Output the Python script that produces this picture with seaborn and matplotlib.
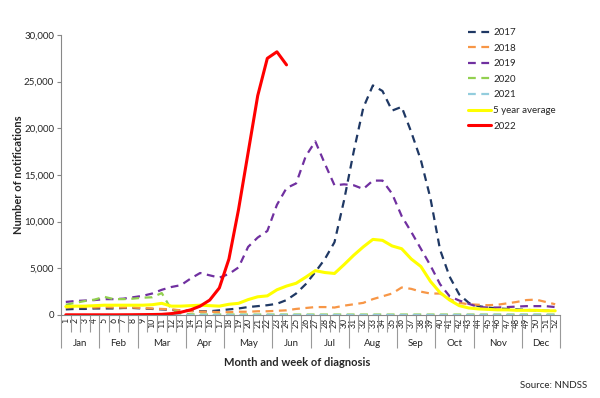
import matplotlib
matplotlib.use('Agg')
import matplotlib.pyplot as plt
import matplotlib.transforms as mtransforms
from matplotlib.ticker import FuncFormatter
import numpy as np
import pandas as pd
import seaborn as sns

weeks = list(range(1, 53))
months = ["Jan", "Feb", "Mar", "Apr", "May", "Jun", "Jul", "Aug", "Sep", "Oct", "Nov", "Dec"]
weeks_per_month = [4, 4, 5, 4, 5, 4, 4, 5, 4, 4, 5, 4]

y2017 = [600, 650, 650, 700, 700, 700, 750, 750, 700, 650,
         600, 550, 500, 450, 400, 400,
         500, 600, 700, 850, 950, 1050, 1200, 1600, 2300, 3300,
         4600, 6000, 7800, 12300, 17500, 22200, 24600, 24000, 21900, 22300,
         19600, 16600, 12500, 7000, 4100, 2200, 1300, 950, 800, 700,
         650, 600, 550, 500, 450, 450]
y2018 = [800, 850, 850, 800, 850, 800, 800, 800, 750, 700,
         650, 600, 500, 400, 350, 350,
         300, 300, 350, 350, 400, 400, 450, 500, 650, 750,
         850, 850, 800, 1000, 1150, 1300, 1700, 2000, 2300, 2950,
         2800, 2500, 2300, 2300, 1700, 1300, 1150, 1100, 1050, 1100,
         1250, 1400, 1600, 1650, 1400, 1150]
y2019 = [1400, 1500, 1550, 1600, 1700, 1700, 1750, 1900, 2050, 2300,
         2700, 3000, 3200, 3900, 4500, 4250,
         4000, 4400, 5100, 7300, 8300, 9000, 11800, 13600, 14100, 17000,
         18600, 16200, 13900, 14000, 13900, 13500, 14400, 14400, 13000, 10600,
         8900, 7100, 5300, 3300, 2000, 1550, 1200, 850, 800, 800,
         850, 900, 950, 950, 950, 850]
y2020 = [1100, 1300, 1500, 1650, 1950, 1700, 1700, 1750, 1850, 1900,
         2350, 600, 150, 80, 60, 50,
         50, 50, 50, 50, 50, 50, 50, 50, 50, 50,
         50, 50, 50, 50, 50, 50, 50, 50, 50, 50,
         50, 50, 50, 50, 50, 50, 50, 50, 50, 50,
         50, 50, 50, 50, 50, 50]
y2021 = [40, 40, 40, 40, 40, 40, 40, 40, 40, 40,
         40, 40, 40, 40, 40, 40,
         40, 40, 40, 40, 40, 40, 40, 40, 40, 40,
         40, 40, 40, 40, 40, 40, 40, 40, 40, 40,
         40, 40, 40, 40, 40, 40, 40, 40, 40, 40,
         40, 40, 40, 40, 40, 40]
y_avg = [900, 950, 950, 1000, 1050, 1050, 1050, 1050, 1050, 1100,
         1250, 950, 950, 1000, 1050, 1000,
         950, 1150, 1250, 1650, 1950, 2050, 2700, 3100, 3400, 4050,
         4750, 4550, 4450, 5400, 6400, 7300, 8100, 8000, 7400, 7100,
         6000, 5200, 3600, 2400, 1600, 1000, 750, 650, 600, 550,
         550, 500, 500, 500, 450, 450]
y2022 = [20, 20, 20, 20, 20, 20, 25, 30, 40, 50,
         70, 150, 300, 550, 950, 1600,
         2900, 6000, 11300, 17400, 23500, 27500, 28200, 26800]

series = [
    ("2017", y2017, "#1F3864", (3.5, 2.5), 1.6),
    ("2018", y2018, "#F79646", (3.5, 2.5), 1.6),
    ("2019", y2019, "#7030A0", (3.5, 2.5), 1.6),
    ("2020", y2020, "#92D050", (3.5, 2.5), 1.6),
    ("2021", y2021, "#93CDDD", (3.5, 2.5), 1.6),
    ("5 year average", y_avg, "#FFFF00", None, 2.2),
    ("2022", y2022, "#FF0000", None, 2.2),
]

sns.set_theme(style="white")
plt.rcParams['font.family'] = ['Lato', 'DejaVu Sans']

fig = plt.figure(figsize=(6.0, 3.98), dpi=100)
ax = fig.add_axes([61 / 600, 1 - 315 / 398, 499 / 600, 280 / 398])

handles = []
for name, vals, color, dash, lw in series:
    df = pd.DataFrame({"week": weeks[:len(vals)], "n": vals})
    sns.lineplot(data=df, x="week", y="n", ax=ax, color=color, linewidth=lw, label=name)
    line = ax.get_lines()[-1]
    if dash:
        line.set_dashes(dash)
    handles.append(line)

ax.set_xlim(0.5, 52.5)
ax.set_ylim(0, 30000)
ax.set_yticks([0, 5000, 10000, 15000, 20000, 25000, 30000])
ax.yaxis.set_major_formatter(FuncFormatter(lambda v, p: f"{int(v):,}"))
ax.tick_params(axis='y', which='major', length=3, width=0.8, color="#888888",
               labelsize=7, pad=2, left=True)

ax.set_xticks(weeks)
ax.set_xticklabels([str(w) for w in weeks], rotation=90, fontsize=6.3)
ax.tick_params(axis='x', which='major', length=0, pad=2)

# week boundary ticks, longer at month boundaries
bounds = np.arange(0.5, 53.5, 1.0)
month_edges = np.cumsum([0] + weeks_per_month) + 0.5
ax.set_xticks(bounds, minor=True)
ax.tick_params(axis='x', which='minor', length=12, width=0.8, color="#999999", bottom=True)
for t, b in zip(ax.xaxis.get_minor_ticks(), bounds):
    if np.any(np.isclose(month_edges, b)):
        t.tick1line.set_markersize(24)

trans = mtransforms.blended_transform_factory(ax.transData, ax.transAxes)
start = 0.5
for m, n in zip(months, weeks_per_month):
    ax.text(start + n / 2, -0.1, m, transform=trans, ha='center', va='center', fontsize=7)
    start += n

for s in ["top", "right"]:
    ax.spines[s].set_visible(False)
for s in ["left", "bottom"]:
    ax.spines[s].set_color("#888888")
    ax.spines[s].set_linewidth(0.8)

ax.set_xlabel("Month and week of diagnosis", fontsize=8, fontweight='bold')
ax.xaxis.set_label_coords(0.473, -0.168)
ax.xaxis.label.set_va('center')
ax.set_ylabel("Number of notifications", fontsize=8, fontweight='bold')
ax.yaxis.set_label_coords(-0.086, 0.5)
ax.yaxis.label.set_va('center')

ax.legend(handles=handles, loc='upper left', bbox_to_anchor=(468 / 600, 1 - 28 / 398),
          bbox_transform=fig.transFigure, frameon=False, fontsize=7,
          handlelength=2.4, handletextpad=0.2, labelspacing=0.68, borderpad=0, borderaxespad=0)

fig.text(587 / 600, 1 - 386 / 398, "Source: NNDSS", ha='right', va='center', fontsize=7)

fig.savefig("out.png", dpi=100)
